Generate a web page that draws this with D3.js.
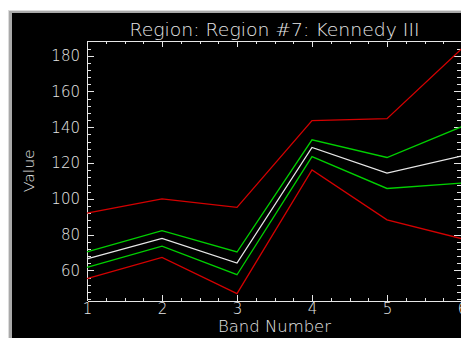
<!DOCTYPE html>
<html>
<head>
<meta charset="utf-8">
<script src="https://cdn.jsdelivr.net/npm/d3@7"></script>
<style>
  html, body { margin: 0; padding: 0; background: #ffffff; }
  svg { display: block; }
  text { font-family: "DejaVu Sans", sans-serif; font-weight: 200; fill: #e6e6e6; }
</style>
</head>
<body>
<svg id="chart" width="461" height="338"></svg>
<script>
// Region statistics per band: min, mean - stdev, mean, mean + stdev, max
const bands      = [1, 2, 3, 4, 5, 6];
const maxValues  = [92.0, 100.0, 95.2, 143.7, 144.8, 184.1];
const sdHigh     = [70.4, 82.2, 70.3, 133.0, 123.1, 140.4];
const meanValues = [66.4, 77.9, 64.1, 128.7, 114.4, 124.0];
const sdLow      = [61.7, 73.6, 57.6, 123.6, 105.8, 108.8];
const minValues  = [55.4, 67.3, 47.0, 116.2, 88.3, 77.7];

const xTicks = [1, 2, 3, 4, 5, 6];
const yTicks = [60, 80, 100, 120, 140, 160, 180];

const titleText = "Region: Region #7: Kennedy III";
const xTitle = "Band Number";
const yTitle = "Value";

const svg = d3.select("#chart");

// window frame
svg.append("rect").attr("x", 0).attr("y", 0).attr("width", 461).attr("height", 338).attr("fill", "#ffffff");
svg.append("rect").attr("x", 8).attr("y", 10).attr("width", 453).attr("height", 328).attr("fill", "#dcdcdc");
svg.append("rect").attr("x", 9).attr("y", 11).attr("width", 452).attr("height", 327).attr("fill", "#a9a9a9");
svg.append("rect").attr("x", 12).attr("y", 13).attr("width", 449).attr("height", 325).attr("fill", "#000000");

const plotLeft = 87, plotRight = 462, plotTop = 41, plotBottom = 300.5;

const x = d3.scaleLinear().domain([1, 6]).range([plotLeft, plotRight]);
const y = d3.scaleLinear().domain([43.2, 188.2]).range([plotBottom, plotTop]);

const axisColor = "#e6e6e6";

function styleAxis(g) {
  g.selectAll(".domain").attr("stroke", axisColor).attr("shape-rendering", "crispEdges");
  g.selectAll(".tick line").attr("stroke", axisColor).attr("shape-rendering", "crispEdges");
  g.selectAll(".tick text").style("font-size", "15px").attr("fill", axisColor);
}

const minorX = d3.range(1, 6.001, 0.25);
const minorY = d3.range(44, 188.1, 4);

// bottom axis
svg.append("g").attr("transform", `translate(0,${plotBottom})`)
  .call(d3.axisBottom(x).tickValues(minorX).tickSize(-3).tickSizeOuter(0).tickFormat(""))
  .call(styleAxis);
svg.append("g").attr("transform", `translate(0,${plotBottom})`)
  .call(d3.axisBottom(x).tickValues(xTicks).tickSize(-6).tickSizeOuter(0).tickPadding(3).tickFormat(d3.format("d")))
  .call(styleAxis);

// top axis (mirrored ticks, no labels)
svg.append("g").attr("transform", `translate(0,${plotTop})`)
  .call(d3.axisTop(x).tickValues(minorX).tickSize(-3).tickSizeOuter(0).tickFormat(""))
  .call(styleAxis);
svg.append("g").attr("transform", `translate(0,${plotTop})`)
  .call(d3.axisTop(x).tickValues(xTicks).tickSize(-6).tickSizeOuter(0).tickFormat(""))
  .call(styleAxis);

// left axis
svg.append("g").attr("transform", `translate(${plotLeft},0)`)
  .call(d3.axisLeft(y).tickValues(minorY).tickSize(-4).tickSizeOuter(0).tickFormat(""))
  .call(styleAxis);
svg.append("g").attr("transform", `translate(${plotLeft},0)`)
  .call(d3.axisLeft(y).tickValues(yTicks).tickSize(-7).tickSizeOuter(0).tickPadding(7).tickFormat(d3.format("d")))
  .call(styleAxis);

// right axis (mirrored ticks, no labels)
svg.append("g").attr("transform", `translate(${plotRight - 1},0)`)
  .call(d3.axisRight(y).tickValues(minorY).tickSize(-4).tickSizeOuter(0).tickFormat(""))
  .call(styleAxis);
svg.append("g").attr("transform", `translate(${plotRight - 1},0)`)
  .call(d3.axisRight(y).tickValues(yTicks).tickSize(-7).tickSizeOuter(0).tickFormat(""))
  .call(styleAxis);

// statistic lines
const series = [
  { values: maxValues,  color: "#d40000" },
  { values: sdHigh,     color: "#00d000" },
  { values: meanValues, color: "#e8e8e8" },
  { values: sdLow,      color: "#00d000" },
  { values: minValues,  color: "#d40000" }
];

const line = d3.line().x((d, i) => x(bands[i])).y(d => y(d));

svg.append("g").selectAll("path")
  .data(series)
  .join("path")
  .attr("d", s => line(s.values))
  .attr("fill", "none")
  .attr("stroke", s => s.color)
  .attr("stroke-width", 1.3)
  .attr("stroke-linejoin", "miter");

// titles
svg.append("text")
  .attr("x", (plotLeft + plotRight) / 2).attr("y", 36)
  .attr("text-anchor", "middle")
  .attr("textLength", 290).attr("lengthAdjust", "spacingAndGlyphs")
  .style("font-size", "17px")
  .text(titleText);

svg.append("text")
  .attr("x", (plotLeft + plotRight) / 2).attr("y", 332)
  .attr("text-anchor", "middle")
  .attr("textLength", 113).attr("lengthAdjust", "spacingAndGlyphs")
  .style("font-size", "16px")
  .text(xTitle);

svg.append("text")
  .attr("transform", `translate(33.5,${(plotTop + plotBottom) / 2}) rotate(-90)`)
  .attr("text-anchor", "middle")
  .attr("textLength", 43).attr("lengthAdjust", "spacingAndGlyphs")
  .style("font-size", "14px")
  .text(yTitle);
</script>
</body>
</html>
